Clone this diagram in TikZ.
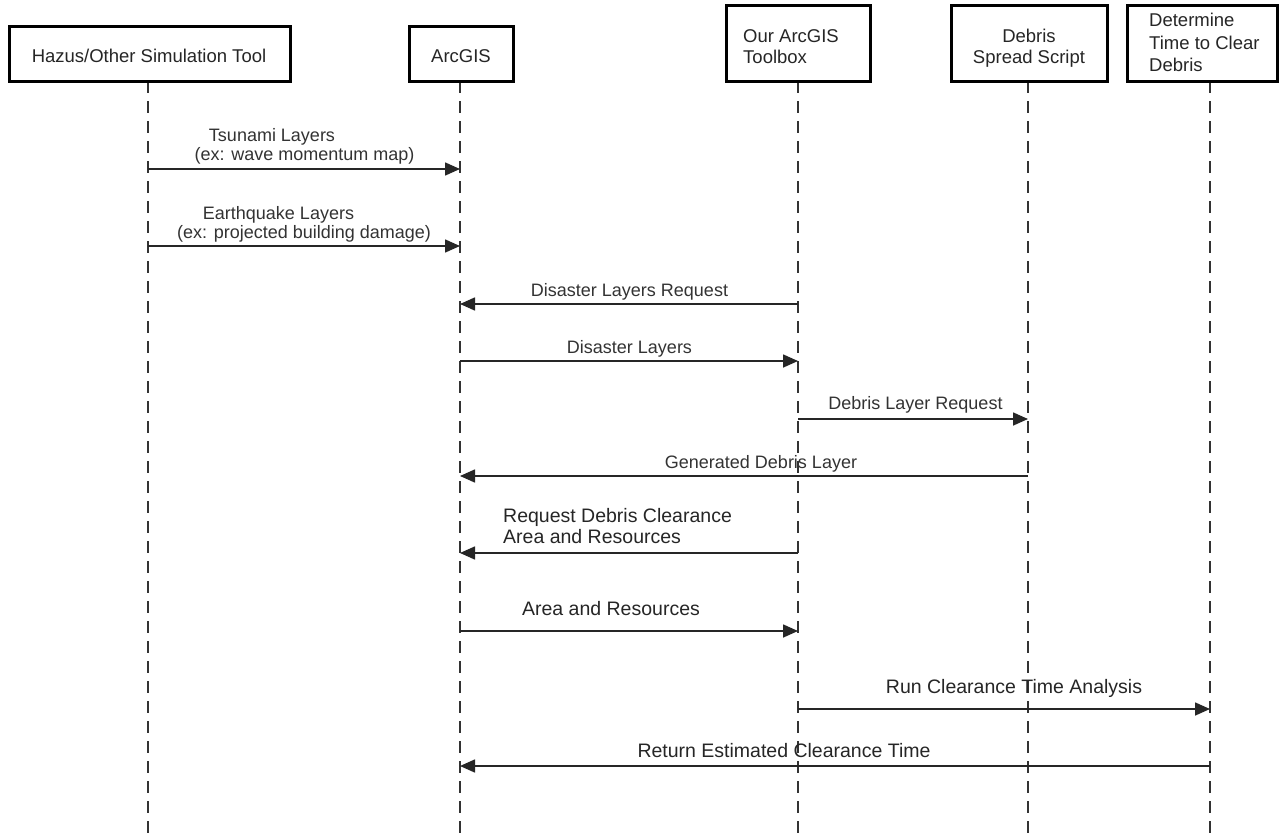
\documentclass[tikz,border=0pt]{standalone}
\usepackage{fontspec}
\setmainfont{Liberation Sans}
\usetikzlibrary{arrows.meta}
\begin{document}
\begin{tikzpicture}[x=1pt,y=-1pt,
  actor/.style={draw=black, line width=3pt, fill=white, inner sep=0pt},
  life/.style={draw=black!80, line width=1.3pt, dash pattern=on 12pt off 8pt},
  msg/.style={draw=black!85, line width=1.6pt, -{Triangle[length=15pt,width=13pt]}},
  hdr/.style={font=\fontsize{18.5}{21.5}\selectfont, text=black!85, inner sep=0pt, anchor=base},
  hdrl/.style={hdr, anchor=base west},
  lbl/.style={font=\fontsize{18}{21}\selectfont, text=black!80, inner sep=0pt, anchor=base},
  lblb/.style={font=\fontsize{19.5}{21}\selectfont, text=black!85, inner sep=0pt, anchor=base},
  lblbl/.style={lblb, anchor=base west},
]
\fill[white] (0,0) rectangle (1283,835);
\useasboundingbox (0,0) rectangle (1283,835);

% lifeline tops and bottoms
\coordinate (t1) at (148,81);  \coordinate (b1) at (148,835);
\coordinate (t2) at (460,81);  \coordinate (b2) at (460,835);
\coordinate (t3) at (798,81);  \coordinate (b3) at (798,835);
\coordinate (t4) at (1028,81); \coordinate (b4) at (1028,835);
\coordinate (t5) at (1210,81); \coordinate (b5) at (1210,835);

\foreach \i in {1,...,5} \draw[life] (t\i) -- (b\i);

% actor boxes
\node[actor, minimum width=281pt, minimum height=55pt] (hz) at (149.5,53.5) {};
\node[actor, minimum width=104pt, minimum height=55pt] (ag) at (461,53.5) {};
\node[actor, minimum width=144pt, minimum height=76pt] (tb) at (798,43) {};
\node[actor, minimum width=156pt, minimum height=76pt] (ds) at (1029,43) {};
\node[actor, minimum width=150pt, minimum height=76pt] (dt) at (1202,43) {};

\node[hdr] (hzt) at (149,62) {Hazus/Other Simulation Tool};
\node[hdr] (agt) at (461,62) {ArcGIS};
\node[hdrl] (tbt1) at (743,42) {Our ArcGIS};
\node[hdrl] (tbt2) at (743,63) {Toolbox};
\node[hdr] (dst1) at (1029,42) {Debris};
\node[hdr] (dst2) at (1029,63) {Spread Script};
\node[hdrl] (dtt1) at (1149,27) {Determine};
\node[hdrl] (dtt2) at (1149,49) {Time to Clear};
\node[hdrl] (dtt3) at (1149,71) {Debris};

% messages
\draw[msg] (t1 |- 0,169) -- (t2 |- 0,169);
\node[lbl] (m1a) at (272,141) {Tsunami Layers};
\node[lbl] (m1b) at (304.5,160) {(ex: wave momentum map)};

\draw[msg] (t1 |- 0,246) -- (t2 |- 0,246);
\node[lbl] (m2a) at (278.5,219) {Earthquake Layers};
\node[lbl] (m2b) at (304,238) {(ex: projected building damage)};

\draw[msg] (t3 |- 0,304) -- (t2 |- 0,304);
\node[lbl] (m3) at (629.5,296) {Disaster Layers Request};

\draw[msg] (t2 |- 0,361) -- (t3 |- 0,361);
\node[lbl] (m4) at (629.5,353) {Disaster Layers};

\draw[msg] (t3 |- 0,419) -- (t4 |- 0,419);
\node[lbl] (m5) at (915.5,409) {Debris Layer Request};

\draw[msg] (t4 |- 0,476) -- (t2 |- 0,476);
\node[lbl] (m6) at (761,468) {Generated Debris Layer};

\draw[msg] (t3 |- 0,553) -- (t2 |- 0,553);
\node[lblbl] (m7a) at (503,522) {Request Debris Clearance};
\node[lblbl] (m7b) at (503,543) {Area and Resources};

\draw[msg] (t2 |- 0,631) -- (t3 |- 0,631);
\node[lblb] (m8) at (611,615) {Area and Resources};

\draw[msg] (t3 |- 0,709) -- (t5 |- 0,709);
\node[lblb] (m9) at (1014,693) {Run Clearance Time Analysis};

\draw[msg] (t5 |- 0,766) -- (t2 |- 0,766);
\node[lblb] (m10) at (784,757) {Return Estimated Clearance Time};
\end{tikzpicture}
\end{document}
